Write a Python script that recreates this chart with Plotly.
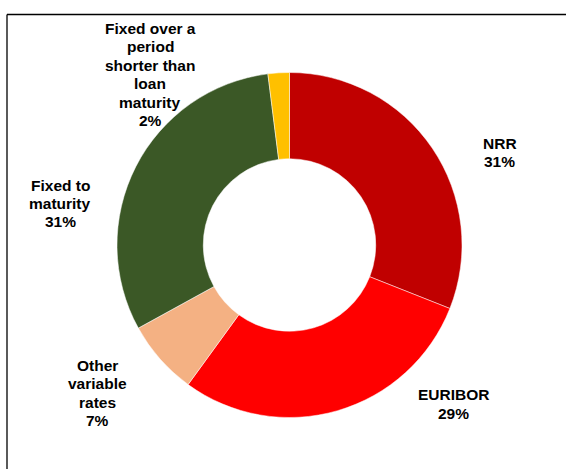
import plotly.graph_objects as go

# Share of new loans by interest rate type
categories = [
    "NRR",
    "EURIBOR",
    "Other variable rates",
    "Fixed to maturity",
    "Fixed over a period shorter than loan maturity",
]
label_lines = [
    ["NRR"],
    ["EURIBOR"],
    ["Other", "variable", "rates"],
    ["Fixed to", "maturity"],
    ["Fixed over a", "period", "shorter than", "loan", "maturity"],
]
shares = [31, 29, 7, 31, 2]
colors = ["#C00000", "#FF0000", "#F4B183", "#3B5826", "#FFC000"]

W, H = 566, 469
LINE_GAP = 18.4  # px between label lines

fig = go.Figure(
    go.Pie(
        labels=categories,
        values=shares,
        hole=0.5,
        sort=False,
        direction="clockwise",
        rotation=0,
        marker=dict(colors=colors, line=dict(color="white", width=0.5)),
        textinfo="none",
        hoverinfo="label+percent",
        showlegend=False,
        domain=dict(x=[117 / W, 462 / W], y=[1 - 417.5 / H, 1 - 72.5 / H]),
    )
)

# Label anchor points (pixel centres of each text block)
label_pos = [(500, 152.5), (453, 404), (97, 393), (60, 203.5), (150, 74.5)]

annotations = []
for lines, share, (px, py) in zip(label_lines, shares, label_pos):
    rows = lines + [f"{share}%"]
    n = len(rows)
    for i, row in enumerate(rows):
        y_px = py + (i - (n - 1) / 2) * LINE_GAP
        annotations.append(
            dict(
                text=f"<b>{row}</b>",
                x=px / W,
                y=1 - y_px / H,
                xref="paper",
                yref="paper",
                xanchor="center",
                yanchor="middle",
                showarrow=False,
                align="center",
                font=dict(family="Liberation Sans, Arial, sans-serif", size=15.5, color="black"),
            )
        )

# Frame lines along the top and left edges
shapes = [
    dict(type="line", xref="paper", yref="paper",
         x0=7 / W, x1=1, y0=1 - 14.5 / H, y1=1 - 14.5 / H,
         line=dict(color="black", width=1.3)),
    dict(type="line", xref="paper", yref="paper",
         x0=7 / W, x1=7 / W, y0=0, y1=1 - 14.5 / H,
         line=dict(color="black", width=1.3)),
]

fig.update_layout(
    width=W,
    height=H,
    margin=dict(l=0, r=0, t=0, b=0),
    paper_bgcolor="white",
    plot_bgcolor="white",
    annotations=annotations,
    shapes=shapes,
)

fig.write_html("out.html")
